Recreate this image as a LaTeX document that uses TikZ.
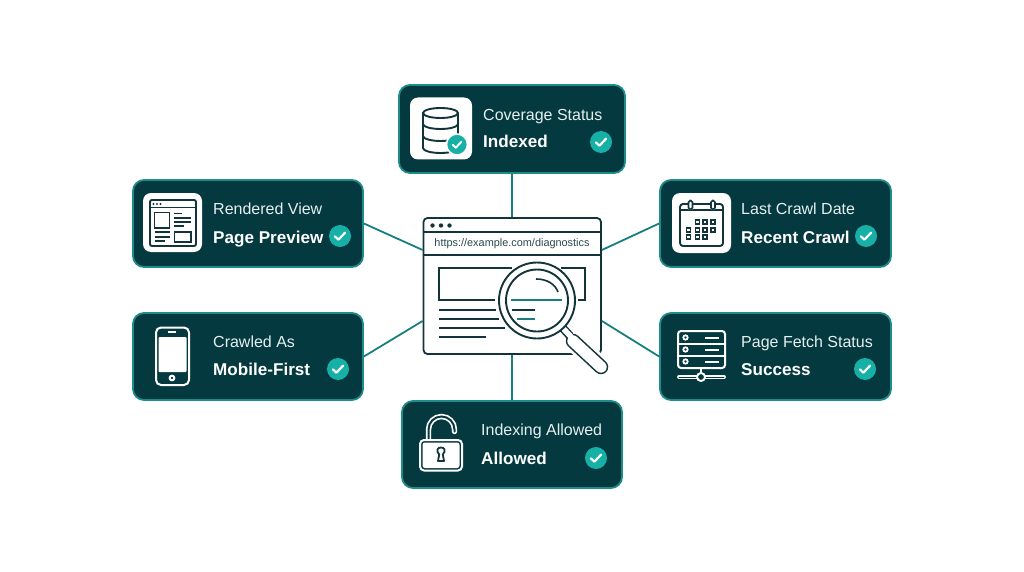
\documentclass[tikz,border=0pt]{standalone}
\usepackage{fontspec}
\setmainfont{Liberation Sans}
\usetikzlibrary{calc}
\definecolor{carddark}{HTML}{04393F}
\definecolor{cardedge}{HTML}{1F8C8C}
\definecolor{linkteal}{HTML}{17807F}
\definecolor{okteal}{HTML}{17B0A6}
\definecolor{inkdark}{HTML}{12343A}
\definecolor{labelcol}{HTML}{E6EFEF}
\tikzset{
  x=1pt,y=-1pt,
  cardbox/.style={draw=cardedge,line width=1.8pt,fill=carddark,rounded corners=11pt,inner sep=0pt},
  labeltext/.style={anchor=base west,inner sep=0pt,text=labelcol,font=\fontsize{16}{18}\selectfont},
  valuetext/.style={anchor=base west,inner sep=0pt,text=white,font=\fontsize{17.1}{18}\selectfont\bfseries},
  okdisc/.style={circle,fill=okteal,minimum size=22pt,inner sep=0pt},
  okmark/.style={draw=white,line width=2.2pt,line cap=round,line join=round},
  iconbg/.style={fill=white,rounded corners=8pt},
  link/.style={draw=linkteal,line width=1.8pt},
  ink/.style={draw=inkdark,line width=1.9pt},
  inkthin/.style={draw=inkdark,line width=1.6pt},
  tealink/.style={draw=linkteal,line width=1.5pt},
  wht/.style={draw=white,line width=2pt},
  windowbox/.style={draw=inkdark,line width=1.8pt,fill=white,rounded corners=4pt,inner sep=0pt,minimum width=177.5pt,minimum height=136pt},
}
\newcommand{\okat}[3]{\node[okdisc] (#1) at (#2,#3) {};
  \draw[okmark] ([shift={(-5,0.5)}]#1.center) -- ++(3.4,3.2) -- ++(6.6,-7);}
\begin{document}
\begin{tikzpicture}
\useasboundingbox (0,0) rectangle (1024,572);
\fill[white] (0,0) rectangle (1024,572);
% cards and window
\node[windowbox] (win) at (512.25,286) {};
\node[cardbox,minimum width=226pt,minimum height=88pt] (cTop) at (512,129) {};
\node[cardbox,minimum width=230pt,minimum height=87pt] (cLA) at (248,223.5) {};
\node[cardbox,minimum width=231pt,minimum height=87pt] (cRA) at (775.5,223.5) {};
\node[cardbox,minimum width=230pt,minimum height=87pt] (cLB) at (248,356.5) {};
\node[cardbox,minimum width=231pt,minimum height=87pt] (cRB) at (775.5,356.5) {};
\node[cardbox,minimum width=220pt,minimum height=87pt] (cBot) at (512,444.5) {};
% connectors
\draw[link] (cTop.south) -- (cTop.south |- win.north);
\draw[link] (cBot.north) -- (cBot.north |- win.south);
\draw[link] (cLA.east) -- (win.west |- 0,250);
\draw[link] (cRA.west) -- (win.east |- 0,250);
\draw[link] (cLB.east) -- (win.west |- 0,321);
\draw[link] (cRB.west) -- (win.east |- 0,321);
% card texts
\node[labeltext] (tTopA) at (483,120.5) {Coverage Status};
\node[valuetext] (tTopB) at (483,148) {Indexed};
\node[labeltext] (tLAA) at (213,214.5) {Rendered View};
\node[valuetext] (tLAB) at (213,243) {Page Preview};
\node[labeltext] (tRAA) at (741,214.5) {Last Crawl Date};
\node[valuetext] (tRAB) at (741,243) {Recent Crawl};
\node[labeltext] (tLBA) at (213,347.5) {Crawled As};
\node[valuetext] (tLBB) at (213,375) {Mobile-First};
\node[labeltext] (tRBA) at (741,347.5) {Page Fetch Status};
\node[valuetext] (tRBB) at (741,375) {Success};
\node[labeltext] (tBotA) at (481,435.5) {Indexing Allowed};
\node[valuetext] (tBotB) at (481,464) {Allowed};
\okat{kTop}{601}{142}
\okat{kLA}{340}{236}
\okat{kRA}{866}{236}
\okat{kLB}{338}{369}
\okat{kRB}{865}{369}
\okat{kBot}{596}{458}
% database icon
\fill[iconbg] (410,97.5) rectangle (472,159.5);
\draw[ink] (423,113) -- (423,148) arc[start angle=180,end angle=360,x radius=17.5,y radius=-5];
\draw[ink] (458,113) -- (458,148);
\draw[ink] (440.5,113) ellipse[x radius=17.5,y radius=5];
\draw[ink] (423,124) arc[start angle=180,end angle=360,x radius=17.5,y radius=-5];
\draw[ink] (423,136) arc[start angle=180,end angle=360,x radius=17.5,y radius=-5];
\node[circle,fill=okteal,draw=white,line width=1.6pt,minimum size=21pt,inner sep=0pt] (kDb) at (457,144.5) {};
\draw[okmark,line width=1.9pt] ([shift={(-4.2,0.3)}]kDb.center) -- ++(3,2.9) -- ++(5.6,-6);
% page icon
\fill[iconbg] (143,193) rectangle (202,252);
\draw[ink,rounded corners=2pt] (150,200) rectangle (196,246);
\draw[ink] (150,207.5) -- (196,207.5);
\foreach \i in {153.5,157,160.5} \fill[inkdark] (\i,204) circle (1.1);
\draw[inkthin] (154.5,212.5) rectangle (169.5,228);
\draw[inkthin] (174,213.3) -- (182,213.3) (174,217.7) -- (191,217.7) (174,221.7) -- (191,221.7) (174,225.7) -- (184,225.7);
\draw[inkthin] (154.5,232) -- (169.5,232) (154.5,236.7) -- (169.5,236.7) (154.5,240.7) -- (164.5,240.7);
\draw[inkthin] (174.5,232) rectangle (191,242);
% calendar icon
\fill[iconbg] (672,193) rectangle (731,253);
\draw[ink,rounded corners=3pt] (680,204) rectangle (723,246);
\draw[ink] (680,210) -- (723,210);
\foreach \i in {690.5,713} {\draw[white,line width=4.5pt,line cap=round] (\i,202) -- (\i,208);
  \draw[inkthin,rounded corners=1.8pt,fill=white] (\i-2,200.5) rectangle (\i+2,209.5);}
\foreach \i/\j in {697.5/222,705/222,713/222,688.5/230,697.5/230,705/230,713/230,688.5/237,697.5/237,705/237}
  \draw[inkdark,line width=1.4pt] (\i-2,\j-2) rectangle (\i+2,\j+2);
% phone icon
\fill[white,rounded corners=1pt] (158.5,337) rectangle (186.5,372);
\draw[wht,rounded corners=5pt] (156,327.5) rectangle (189,385);
\draw[wht] (168,332) -- (176,332);
\draw[wht] (172,378) circle (2.3);
% server icon
\draw[wht,rounded corners=3pt] (678,331) rectangle (725,368);
\draw[wht] (678,343.5) -- (725,343.5) (678,355.5) -- (725,355.5);
\foreach \j in {337.5,349.5,361.5} {\draw[wht,line width=1.7pt] (685.5,\j) circle (2.2);
  \draw[wht] (705,\j) -- (719,\j);}
\draw[wht] (701,368) -- (701,373);
\draw[white,line width=3.8pt,line cap=round] (679,377) -- (724,377);
\draw[carddark,line width=0.9pt,line cap=round] (679,377) -- (724,377);
\node[circle,draw=white,line width=1.9pt,fill=carddark,minimum size=8pt,inner sep=0pt] (srvHub) at (701,377) {};
% lock icon
\draw[white,line width=5.4pt,line cap=round] (428.5,441) -- (428.5,429.5) arc[start angle=180,end angle=360,radius=13] -- (454.5,431.5);
\draw[carddark,line width=2pt,line cap=round] (428.5,441) -- (428.5,429.5) arc[start angle=180,end angle=360,radius=13] -- (454.5,431.5);
\draw[wht,rounded corners=4pt,fill=carddark] (420,440) rectangle (462,470.5);
\fill[white,rounded corners=2.5pt] (422.5,442.5) rectangle (459.5,468);
\draw[draw=inkdark,line width=1.8pt,line join=round,fill=white] (439.2,454.5) .. controls (435.8,450.5) and (437.5,447.5) .. (441,447.5) .. controls (444.5,447.5) and (446.2,450.5) .. (442.8,454.5) -- (444,461) -- (438,461) -- cycle;
% browser window interior
\draw[ink,line width=1.8pt] (win.west |- 0,232) -- (win.east |- 0,232);
\draw[ink,line width=1.8pt] (win.west |- 0,255) -- (win.east |- 0,255);
\foreach \i in {432.5,441,449.5} \fill[inkdark] (\i,225.5) circle (2.2);
\node[inner sep=0pt,text=inkdark!90,font=\fontsize{10.9}{12}\selectfont] (urlText) at (512,244) {https://example.com/diagnostics};
\draw[ink,line width=1.8pt] (512,268) -- (439,268) -- (439,300) -- (495,300);
\draw[ink,line width=1.8pt] (561,268) -- (585,268) -- (585,300) -- (578,300);
\draw[inkthin] (439,310) -- (496,310) (439,319) -- (499,319) (439,328) -- (505,328) (439,337) -- (486,337);
% magnifier
\draw[white,line width=20pt,line cap=round] (573,341) -- (601,367);
\draw[inkdark,line width=14.5pt,line cap=round] (573,341) -- (601,367);
\draw[white,line width=11.4pt,line cap=round] (573,341) -- (601,367);
\draw[inkdark,line width=8.5pt] (561,326) -- (570,336);
\draw[white,line width=5.6pt] (560,325) -- (571.5,337.3);
\draw[inkdark,line width=1.9pt,fill=white] (537,300.5) circle (38);
\draw[inkdark,line width=1.9pt,fill=white] (537,300.5) circle (31);
\draw[tealink] (511,300) -- (562,300);
\draw[inkthin] (512,310) -- (535,310);
\draw[tealink] (517,319) -- (535,319);
\draw[inkthin] (536,279) .. controls (547,279) and (555,284) .. (558,292);
\end{tikzpicture}
\end{document}
